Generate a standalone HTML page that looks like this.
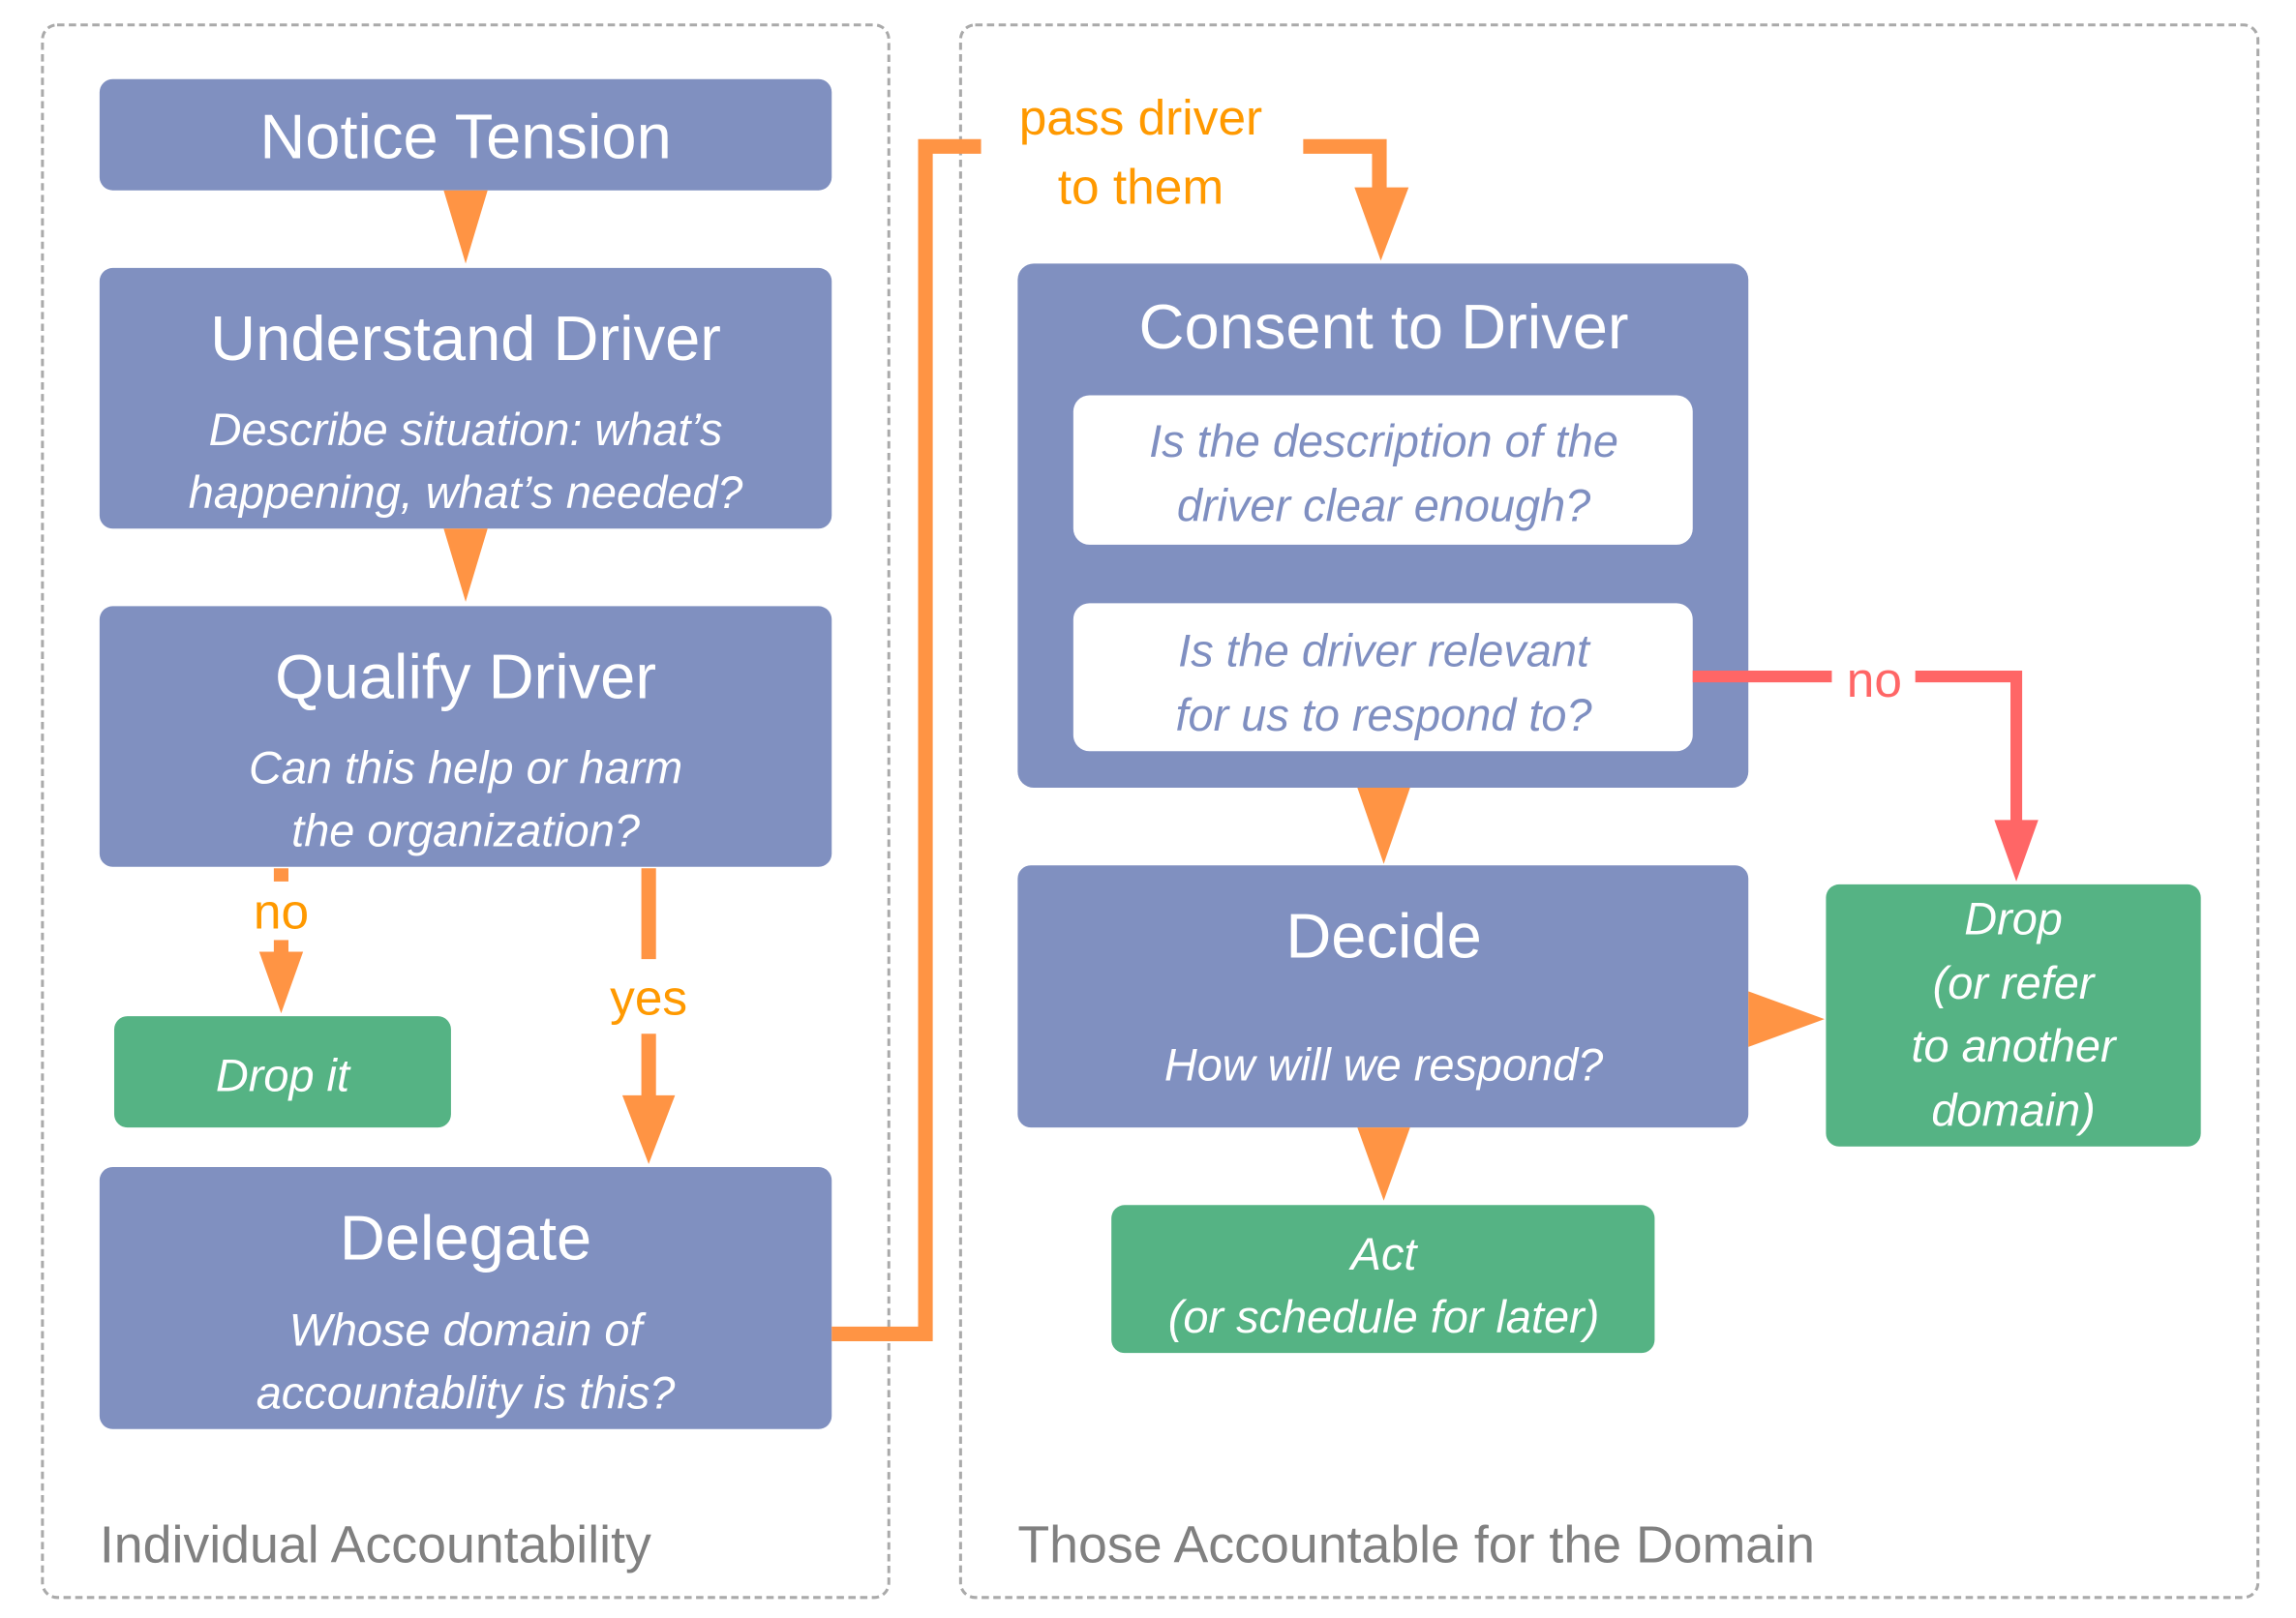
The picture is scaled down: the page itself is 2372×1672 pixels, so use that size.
<!DOCTYPE html>
<html><head><meta charset="utf-8"><style>
html,body{margin:0;padding:0;background:#fff;}
svg{display:block;}
text{font-family:"Liberation Sans","DejaVu Sans",sans-serif;}
.t{fill:#fff;font-size:43px;text-anchor:middle;}
.s{fill:#fff;font-size:31px;font-style:italic;text-anchor:middle;}
.q{fill:#7f8fc1;font-size:31px;font-style:italic;text-anchor:middle;}
.o{fill:#ff9900;font-size:34px;text-anchor:middle;}
.g{fill:#808080;font-size:35.5px;}
</style></head><body>
<svg width="2372" height="1672" viewBox="0 0 1568 1105" preserveAspectRatio="none" xmlns="http://www.w3.org/2000/svg">
<g fill="none" stroke="#aaa" stroke-width="2" stroke-dasharray="5,3">
<rect x="29" y="17" width="578" height="1074" rx="10"/>
<rect x="656" y="17" width="886" height="1074" rx="10"/>
</g>
<g fill="#8090c0">
<rect x="68" y="54" width="500" height="76" rx="9"/>
<rect x="68" y="183" width="500" height="178" rx="9"/>
<rect x="68" y="414" width="500" height="178" rx="9"/>
<rect x="68" y="797" width="500" height="179" rx="9"/>
<rect x="695" y="180" width="499" height="358" rx="11"/>
<rect x="695" y="591" width="499" height="179" rx="9"/>
</g>
<g fill="#fff">
<rect x="733" y="270" width="423" height="102" rx="11"/>
<rect x="733" y="412" width="423" height="101" rx="11"/>
</g>
<g fill="#55b384">
<rect x="78" y="694" width="230" height="76" rx="9"/>
<rect x="1247" y="604" width="256" height="179" rx="9"/>
<rect x="759" y="823" width="371" height="101" rx="9"/>
</g>
<g fill="#ff9444">
<polygon points="303,130 333,130 318,180"/>
<polygon points="303,361 333,361 318,411"/>
<polygon points="177,650 207,650 192,692"/>
<polygon points="425,748 461,748 443,795"/>
<polygon points="925,128 962,128 943,178"/>
<polygon points="927,538 963,538 945,590"/>
<polygon points="1194,677 1194,715 1246,696"/>
<polygon points="927,770 963,770 945,820"/>
</g>
<g fill="none" stroke="#ff9444" stroke-width="10">
<line x1="192" y1="593" x2="192" y2="602"/>
<line x1="192" y1="642" x2="192" y2="652"/>
<line x1="443" y1="593" x2="443" y2="655"/>
<line x1="443" y1="706" x2="443" y2="750"/>
<polyline points="568,911 632,911 632,100 670,100"/>
<polyline points="890,100 942,100 942,130"/>
</g>
<polygon points="1362,560 1392,560 1377,602" fill="#ff6666"/>
<g fill="none" stroke="#ff6666" stroke-width="8">
<line x1="1156" y1="462" x2="1251" y2="462"/>
<polyline points="1308,462 1377,462 1377,562"/>
</g>
<text class="t" x="318" y="108">Notice Tension</text>
<text class="t" x="318" y="246">Understand Driver</text>
<text class="s" x="318" y="304">Describe situation: what’s</text>
<text class="s" x="318" y="347">happening, what’s needed?</text>
<text class="t" x="318" y="477">Qualify Driver</text>
<text class="s" x="318" y="535">Can this help or harm</text>
<text class="s" x="318" y="578">the organization?</text>
<text class="o" x="192" y="634">no</text>
<text class="o" x="443" y="693">yes</text>
<text class="s" x="193" y="745">Drop it</text>
<text class="t" x="318" y="860">Delegate</text>
<text class="s" x="318" y="919">Whose domain of</text>
<text class="s" x="318" y="962">accountablity is this?</text>
<text class="o" x="779" y="92">pass driver</text>
<text class="o" x="779" y="139">to them</text>
<text class="t" x="945" y="238">Consent to Driver</text>
<text class="q" x="945" y="312">Is the description of the</text>
<text class="q" x="945" y="356">driver clear enough?</text>
<text class="q" x="945" y="455">Is the driver relevant</text>
<text class="q" x="945" y="499">for us to respond to?</text>
<text x="1280" y="476" style="fill:#ff6666;font-size:34px;text-anchor:middle">no</text>
<text class="t" x="945" y="654">Decide</text>
<text class="s" x="945" y="738">How will we respond?</text>
<text class="s" x="1375" y="638">Drop</text>
<text class="s" x="1375" y="682">(or refer</text>
<text class="s" x="1375" y="725">to another</text>
<text class="s" x="1375" y="769">domain)</text>
<text class="s" x="945" y="867">Act</text>
<text class="s" x="945" y="910">(or schedule for later)</text>
<text class="g" x="68" y="1067">Individual Accountability</text>
<text class="g" x="695" y="1067">Those Accountable for the Domain</text>
</svg>
</body></html>
